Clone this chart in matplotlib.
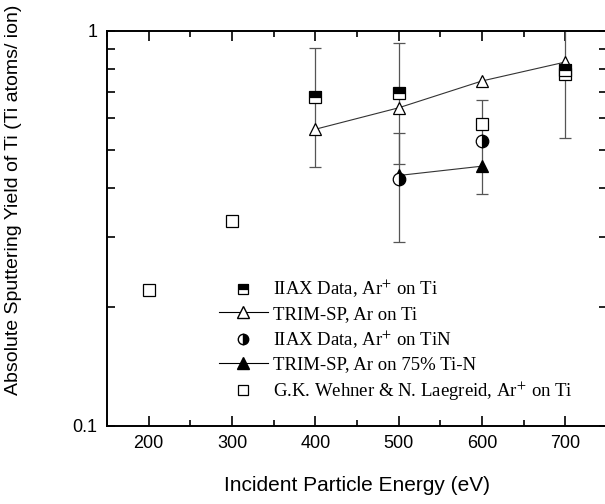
import numpy as np
import matplotlib
matplotlib.use('Agg')
import matplotlib.pyplot as plt
from matplotlib.lines import Line2D
from matplotlib.ticker import MultipleLocator, LogLocator, NullFormatter, FixedLocator

plt.rcParams['font.family'] = ['Liberation Sans', 'DejaVu Sans']
plt.rcParams['mathtext.fontset'] = 'stix'

# IIAX data, Ar+ on Ti (half-filled squares)
iiax_ti_e = [400, 500, 700]
iiax_ti_y = [0.678, 0.694, 0.795]
iiax_ti_err = [0.225, 0.235, 0.26]

# TRIM-SP, Ar on Ti (open triangles + line)
trim_ti_e = [400, 500, 600, 700]
trim_ti_y = [0.563, 0.638, 0.746, 0.833]

# IIAX data, Ar+ on TiN (half-filled circles)
iiax_tin_e = [500, 600]
iiax_tin_y = [0.421, 0.527]
iiax_tin_err = [0.13, 0.14]

# TRIM-SP, Ar on 75% Ti-N (filled triangles + line)
trim_tin_e = [500, 600]
trim_tin_y = [0.430, 0.454]

# Wehner & Laegreid (open squares)
wehner_e = [200, 300, 600, 700]
wehner_y = [0.220, 0.330, 0.579, 0.775]

fig = plt.figure(figsize=(6.05, 5.04), dpi=100)
ax = fig.add_axes([107 / 605, 0.1553, 500 / 605, 0.7838])

ax.set_yscale('log')
ax.set_xlim(150, 750)
ax.set_ylim(0.1, 1)

ecol = '#555555'
ax.errorbar(iiax_ti_e, iiax_ti_y, yerr=iiax_ti_err, fmt='none', ecolor=ecol,
            elinewidth=0.9, capsize=4.5, capthick=0.9, zorder=2)
ax.errorbar(iiax_tin_e, iiax_tin_y, yerr=iiax_tin_err, fmt='none', ecolor=ecol,
            elinewidth=0.9, capsize=4.5, capthick=0.9, zorder=2)

ax.plot(trim_ti_e, trim_ti_y, color='#333333', lw=0.8, marker='^', ms=8,
        mfc='white', mec='black', mew=0.9, zorder=3)
ax.plot(trim_tin_e, trim_tin_y, color='#333333', lw=0.8, marker='^', ms=8,
        mfc='black', mec='black', mew=0.9, zorder=3)
ax.plot(wehner_e, wehner_y, ls='none', marker='s', ms=8, mfc='white',
        mec='black', mew=0.9, zorder=4)
ax.plot(iiax_ti_e, iiax_ti_y, ls='none', marker='s', ms=8, fillstyle='top',
        mfc='black', mfcalt='white', mec='black', mew=0.9, zorder=5)
ax.plot(iiax_tin_e, iiax_tin_y, ls='none', marker='o', ms=9, fillstyle='right',
        mfc='black', mfcalt='white', mec='black', mew=0.9, zorder=5)

# ticks
ax.xaxis.set_major_locator(MultipleLocator(100))
ax.xaxis.set_minor_locator(MultipleLocator(50))
ax.yaxis.set_major_locator(FixedLocator([0.1, 1]))
ax.yaxis.set_major_formatter(matplotlib.ticker.FixedFormatter(['0.1', '1']))
ax.yaxis.set_minor_locator(LogLocator(base=10, subs=np.arange(2, 10)))
ax.yaxis.set_minor_formatter(NullFormatter())
ax.tick_params(which='both', direction='in', top=True, right=True, width=1.2,
               labelsize=13, pad=7)
ax.tick_params(axis='x', which='major', length=7)
ax.tick_params(axis='x', which='minor', length=4)
ax.tick_params(axis='y', which='both', length=6)
for s in ax.spines.values():
    s.set_linewidth(1.4)

ax.set_xlabel('Incident Particle Energy (eV)', fontsize=15, labelpad=17)
ax.set_ylabel('Absolute Sputtering Yield of Ti (Ti atoms/ ion)', fontsize=14)
ax.yaxis.set_label_coords(-0.17, 0.571)

handles = [
    Line2D([], [], ls='none', marker='s', ms=6.5, fillstyle='top', mfc='black',
           mfcalt='white', mec='black', mew=0.9),
    Line2D([], [], color='black', lw=0.8, marker='^', ms=8, mfc='white', mec='black'),
    Line2D([], [], ls='none', marker='o', ms=7.5, fillstyle='right', mfc='black',
           mfcalt='white', mec='black'),
    Line2D([], [], color='black', lw=0.8, marker='^', ms=8, mfc='black', mec='black'),
    Line2D([], [], ls='none', marker='s', ms=6.5, mfc='white', mec='black', mew=0.9),
]
labels = [
    r'IIAX Data, Ar$^{+}$ on Ti',
    'TRIM-SP, Ar on Ti',
    r'IIAX Data, Ar$^{+}$ on TiN',
    'TRIM-SP, Ar on 75% Ti-N',
    r'G.K. Wehner & N. Laegreid, Ar$^{+}$ on Ti',
]
leg = ax.legend(handles, labels, loc='upper left', bbox_to_anchor=(0.209, 0.394),
                frameon=False, handlelength=2.6, handletextpad=0.27,
                labelspacing=0.3, borderaxespad=0,
                prop={'family': 'Liberation Serif', 'size': 13.5})

fig.savefig('out.png', dpi=100)
